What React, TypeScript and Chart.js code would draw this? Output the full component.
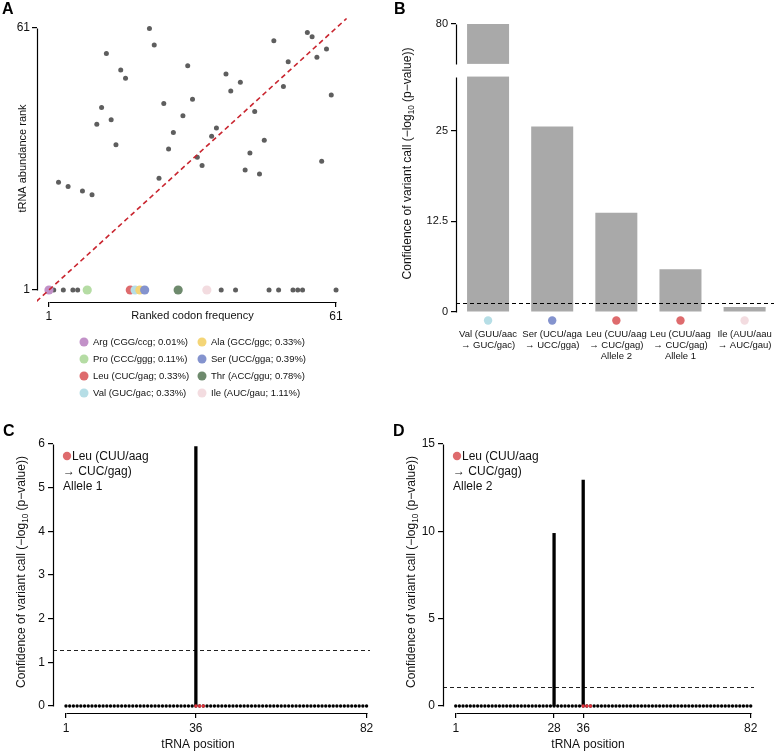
import React, { useEffect, useRef } from "react";
import { Chart, registerables } from "chart.js";

Chart.register(...registerables);

const FONT = "'Liberation Sans', Arial, Helvetica, sans-serif";
const INK = "#111111";

// ---------------- Panel A data ----------------
const greyCodonRank = [3, 5, 8, 10, 11, 12, 13, 14, 15, 16, 17, 22, 23, 24, 25, 26, 27, 29, 30, 31, 32, 33, 35, 36, 38, 39, 41, 42, 43, 44, 45, 46, 48, 50, 51, 55, 56, 57, 58, 59, 60, 2, 4, 6, 7, 37, 40, 47, 49, 52, 53, 54, 61];
const greyTrnaRank = [25.7, 24.7, 23.7, 22.8, 39, 42.8, 55.2, 40, 34.3, 51.4, 49.5, 60.9, 57.1, 26.6, 43.7, 33.3, 37.1, 40.9, 52.4, 44.7, 31.4, 29.5, 36.2, 38.1, 50.5, 46.6, 48.6, 28.5, 32.4, 41.9, 27.6, 35.3, 58.1, 47.6, 53.3, 60, 59, 54.3, 30.5, 56.2, 45.7, 1, 1, 1, 1, 1, 1, 1, 1, 1, 1, 1, 1];

const highlightLabels = ["Arg (CGG/ccg; 0.01%)", "Pro (CCC/ggg; 0.11%)", "Leu (CUC/gag; 0.33%)", "Val (GUC/gac; 0.33%)", "Ala (GCC/ggc; 0.33%)", "Ser (UCC/gga; 0.39%)", "Thr (ACC/ggu; 0.78%)", "Ile (AUC/gau; 1.11%)"];
const highlightCodonRank = [1, 9, 18, 19, 20, 21, 28, 34];
const highlightTrnaRank = [1, 1, 1, 1, 1, 1, 1, 1];
const highlightColors = ["#C291C8", "#B5DCA4", "#DE6B6D", "#B6DEE6", "#F4D577", "#8493CE", "#6E8A6D", "#F3DCE0"];
const axisATicks = [1, 61];

// ---------------- Panel B data ----------------
const variantLabels = [
  ["Val (GUU/aac", "\u2192 GUC/gac)"],
  ["Ser (UCU/aga", "\u2192 UCC/gga)"],
  ["Leu (CUU/aag", "\u2192 CUC/gag)", "Allele 2"],
  ["Leu (CUU/aag", "\u2192 CUC/gag)", "Allele 1"],
  ["Ile (AUU/aau", "\u2192 AUC/gau)"],
];
const variantScores = [80, 25.6, 13.7, 5.9, 0.7];
const variantColors = ["#B6DEE6", "#8493CE", "#DE6B6D", "#DE6B6D", "#F3DCE0"];
const variantTicks = [0, 12.5, 25, 80];
const variantThreshold = 1.3;

// ---------------- Panels C / D data ----------------
const trnaPositions = [1, 2, 3, 4, 5, 6, 7, 8, 9, 10, 11, 12, 13, 14, 15, 16, 17, 18, 19, 20, 21, 22, 23, 24, 25, 26, 27, 28, 29, 30, 31, 32, 33, 34, 35, 36, 37, 38, 39, 40, 41, 42, 43, 44, 45, 46, 47, 48, 49, 50, 51, 52, 53, 54, 55, 56, 57, 58, 59, 60, 61, 62, 63, 64, 65, 66, 67, 68, 69, 70, 71, 72, 73, 74, 75, 76, 77, 78, 79, 80, 81, 82];
const anticodonPositions = [36, 37, 38];

const allele1StemPositions = [36];
const allele1StemScores = [5.95];
const allele1Threshold = 1.28;
const allele1YTicks = [0, 1, 2, 3, 4, 5, 6];
const allele1XTicks = [1, 36, 82];

const allele2StemPositions = [28, 36];
const allele2StemScores = [9.9, 12.95];
const allele2Threshold = 1.1;
const allele2YTicks = [0, 5, 10, 15];
const allele2XTicks = [1, 28, 36, 82];

// ---------------- helpers ----------------
const BREAK_LOW = 32.5;
const BREAK_GAP = 1.75;
const UPPER_FROM = 74.5;
const toDisplay = (v: number) => (v <= BREAK_LOW ? v : BREAK_LOW + BREAK_GAP + (v - UPPER_FROM));

function setFont(ctx: CanvasRenderingContext2D, size: number, bold = false) {
  ctx.font = `${bold ? "bold " : ""}${size}px ${FONT}`;
}

function drawLetter(ctx: CanvasRenderingContext2D, letter: string, x: number, y: number) {
  ctx.save();
  setFont(ctx, 16, true);
  ctx.fillStyle = "#000";
  ctx.textAlign = "left";
  ctx.textBaseline = "top";
  ctx.fillText(letter, x, y);
  ctx.restore();
}

function drawXAxisLine(chart: any, from: number, to: number) {
  const ctx = chart.ctx;
  const xs = chart.scales.x;
  const y = Math.round(chart.chartArea.bottom) + 0.5;
  ctx.save();
  ctx.strokeStyle = "#000";
  ctx.lineWidth = 1.2;
  ctx.beginPath();
  ctx.moveTo(Math.round(xs.getPixelForValue(from)) + 0.5, y);
  ctx.lineTo(Math.round(xs.getPixelForValue(to)) + 0.5, y);
  ctx.stroke();
  ctx.restore();
}

function drawYAxisLine(chart: any, from: number, to: number) {
  const ctx = chart.ctx;
  const ys = chart.scales.y;
  const x = Math.round(chart.chartArea.left) + 0.5;
  ctx.save();
  ctx.strokeStyle = "#000";
  ctx.lineWidth = 1.2;
  ctx.beginPath();
  ctx.moveTo(x, Math.round(ys.getPixelForValue(from)) + 0.5);
  ctx.lineTo(x, Math.round(ys.getPixelForValue(to)) + 0.5);
  ctx.stroke();
  ctx.restore();
}

function drawRotated(ctx: CanvasRenderingContext2D, str: string, x: number, cy: number, size: number) {
  ctx.save();
  ctx.translate(x, cy);
  ctx.rotate(-Math.PI / 2);
  setFont(ctx, size);
  ctx.fillStyle = INK;
  ctx.textAlign = "center";
  ctx.textBaseline = "middle";
  ctx.fillText(str, 0, 0);
  ctx.restore();
}

function drawConfidenceTitle(ctx: CanvasRenderingContext2D, x: number, cy: number, size: number) {
  const parts: [string, number, number][] = [
    ["Confidence of variant call (\u2212log", size, 0],
    ["10", size * 0.68, size * 0.3],
    [" (p\u2212value))", size, 0],
  ];
  ctx.save();
  ctx.translate(x, cy);
  ctx.rotate(-Math.PI / 2);
  ctx.fillStyle = INK;
  ctx.textAlign = "left";
  ctx.textBaseline = "middle";
  let total = 0;
  const widths = parts.map(([s, sz]) => {
    setFont(ctx, sz);
    const w = ctx.measureText(s).width;
    total += w;
    return w;
  });
  let cx = -total / 2;
  parts.forEach(([s, sz, dy], i) => {
    setFont(ctx, sz);
    ctx.fillText(s, cx, dy);
    cx += widths[i];
  });
  ctx.restore();
}

function drawText(ctx: CanvasRenderingContext2D, str: string, x: number, y: number, size: number, align: CanvasTextAlign = "left") {
  ctx.save();
  setFont(ctx, size);
  ctx.fillStyle = INK;
  ctx.textAlign = align;
  ctx.textBaseline = "middle";
  ctx.fillText(str, x, y);
  ctx.restore();
}

function dot(ctx: CanvasRenderingContext2D, x: number, y: number, r: number, color: string) {
  ctx.save();
  ctx.fillStyle = color;
  ctx.beginPath();
  ctx.arc(x, y, r, 0, Math.PI * 2);
  ctx.fill();
  ctx.restore();
}

const tickGrid = { drawOnChartArea: false, drawTicks: true, tickLength: 5, color: "#000", lineWidth: 1.2 };

// ---------------- Panel A config ----------------
function configA(): any {
  const drawOrder = [5, 4, 3, 2, 0, 1, 6, 7];
  const datasets: any[] = [
    {
      type: "line",
      label: "y = x",
      data: [{ x: -1.6, y: -1.6 }, { x: 63.2, y: 63.2 }],
      borderColor: "#C9252F",
      borderWidth: 1.6,
      borderDash: [5, 3.5],
      pointRadius: 0,
      showLine: true,
      fill: false,
    },
  ];
  drawOrder.forEach((i) => {
    datasets.push({
      label: highlightLabels[i],
      data: [{ x: highlightCodonRank[i], y: highlightTrnaRank[i] }],
      pointRadius: 4.6,
      pointBackgroundColor: highlightColors[i],
      backgroundColor: highlightColors[i],
      pointBorderWidth: 0,
    });
  });
  datasets.push({
    label: "other",
    data: greyCodonRank.map((x, i) => ({ x, y: greyTrnaRank[i] })),
    pointRadius: 2.5,
    pointBackgroundColor: "#5E5E5E",
    pointBorderWidth: 0,
  });

  return {
    type: "scatter",
    data: { datasets },
    options: {
      animation: false,
      responsive: false,
      maintainAspectRatio: false,
      layout: { padding: { top: 15, right: 42, left: 0, bottom: 0 } },
      plugins: { legend: { display: false }, tooltip: { enabled: false } },
      scales: {
        x: {
          type: "linear",
          min: -1.5,
          max: 63.5,
          afterBuildTicks: (s: any) => { s.ticks = axisATicks.map((v) => ({ value: v })); },
          afterFit: (s: any) => { s.height = 118; },
          border: { display: false },
          grid: tickGrid,
          ticks: { color: INK, font: { family: FONT, size: 12 }, padding: 2, maxRotation: 0, autoSkip: false },
        },
        y: {
          type: "linear",
          min: -1.75,
          max: 64,
          afterBuildTicks: (s: any) => { s.ticks = axisATicks.map((v) => ({ value: v })); },
          afterFit: (s: any) => { s.width = 37; },
          border: { display: false },
          grid: tickGrid,
          ticks: { color: INK, font: { family: FONT, size: 12 }, padding: 2, autoSkip: false },
        },
      },
    },
    plugins: [
      {
        id: "decorA",
        afterDraw(chart: any) {
          const ctx = chart.ctx;
          const ca = chart.chartArea;
          drawXAxisLine(chart, axisATicks[0], axisATicks[1]);
          drawYAxisLine(chart, axisATicks[0], axisATicks[1]);
          drawRotated(ctx, "tRNA abundance rank", 23, (ca.top + ca.bottom) / 2, 11);
          drawText(ctx, "Ranked codon frequency", (ca.left + ca.right) / 2, 316, 11, "center");
          // legend: two columns of four
          const rowsY = [342, 359, 376, 393];
          highlightLabels.forEach((lab, i) => {
            const col = Math.floor(i / 4);
            const row = i % 4;
            const cx = col === 0 ? 84 : 202;
            dot(ctx, cx, rowsY[row], 4.5, highlightColors[i]);
            drawText(ctx, lab, cx + 9, rowsY[row], 9.5, "left");
          });
          drawLetter(ctx, "A", 2, 2);
        },
      },
    ],
  };
}

// ---------------- Panel B config ----------------
function configB(): any {
  return {
    type: "bar",
    data: {
      labels: variantLabels,
      datasets: [
        {
          label: "Confidence",
          data: variantScores.map(toDisplay),
          backgroundColor: "#A9A9A9",
          borderWidth: 0,
          barPercentage: 0.655,
          categoryPercentage: 1,
        },
      ],
    },
    options: {
      animation: false,
      responsive: false,
      maintainAspectRatio: false,
      layout: { padding: { top: 15, right: 12, left: 0, bottom: 0 } },
      plugins: { legend: { display: false }, tooltip: { enabled: false } },
      scales: {
        x: {
          type: "category",
          afterFit: (s: any) => { s.height = 108; },
          border: { display: false },
          grid: { display: false, drawTicks: false },
          ticks: { color: INK, font: { family: FONT, size: 9.5, lineHeight: 1.15 }, padding: 17, maxRotation: 0, autoSkip: false },
        },
        y: {
          type: "linear",
          min: 0,
          max: 41,
          afterBuildTicks: (s: any) => { s.ticks = variantTicks.map((v) => ({ value: toDisplay(v) })); },
          afterFit: (s: any) => { s.width = 66; },
          border: { display: false },
          grid: tickGrid,
          ticks: {
            color: INK,
            font: { family: FONT, size: 11 },
            padding: 3,
            autoSkip: false,
            callback: (_v: any, i: number) => String(variantTicks[i]),
          },
        },
      },
    },
    plugins: [
      {
        id: "decorB",
        afterDatasetsDraw(chart: any) {
          const ctx = chart.ctx;
          const ca = chart.chartArea;
          const ys = chart.scales.y;
          const xs = chart.scales.x;
          // axis break gap
          const gTop = ys.getPixelForValue(BREAK_LOW + BREAK_GAP);
          const gBot = ys.getPixelForValue(BREAK_LOW);
          ctx.save();
          ctx.fillStyle = "#fff";
          ctx.fillRect(ca.left + 1, gTop, ca.right - ca.left, gBot - gTop);
          ctx.restore();
          // threshold
          const ty = Math.round(ys.getPixelForValue(variantThreshold)) + 0.5;
          ctx.save();
          ctx.strokeStyle = "#000";
          ctx.lineWidth = 1;
          ctx.setLineDash([4, 3]);
          ctx.beginPath();
          ctx.moveTo(ca.left, ty);
          ctx.lineTo(ca.right + 20, ty);
          ctx.stroke();
          ctx.restore();
          // broken axis
          drawYAxisLine(chart, 0, BREAK_LOW);
          drawYAxisLine(chart, BREAK_LOW + BREAK_GAP, toDisplay(80));
          // colored dots
          variantColors.forEach((c, i) => dot(ctx, xs.getPixelForValue(i), ca.bottom + 8.5, 4.2, c));
          drawConfidenceTitle(ctx, 18, (ca.top + ca.bottom) / 2, 12);
          drawLetter(ctx, "B", 4, 2);
        },
      },
    ],
  };
}

// ---------------- Panels C / D config ----------------
function configStem(p: {
  stemPos: number[];
  stemVal: number[];
  threshold: number;
  yTicks: number[];
  xTicks: number[];
  yMin: number;
  yMax: number;
  allele: string;
  letter: string;
}): any {
  const datasets: any[] = [
    {
      label: "anticodon",
      data: anticodonPositions.map((x) => ({ x, y: 0 })),
      pointRadius: 1.7,
      pointBackgroundColor: "#E0313A",
      pointBorderWidth: 0,
    },
  ];
  p.stemPos.forEach((x, i) => {
    datasets.push({
      type: "line",
      label: "stem " + x,
      data: [{ x, y: 0 }, { x, y: p.stemVal[i] }],
      borderColor: "#000",
      borderWidth: 3.3,
      borderCapStyle: "butt",
      pointRadius: 0,
      showLine: true,
      fill: false,
    });
  });
  datasets.push({
    label: "positions",
    data: trnaPositions.map((x) => ({ x, y: 0 })),
    pointRadius: 1.7,
    pointBackgroundColor: "#000",
    pointBorderWidth: 0,
  });

  return {
    type: "scatter",
    data: { datasets },
    options: {
      animation: false,
      responsive: false,
      maintainAspectRatio: false,
      layout: { padding: { top: 11, right: 16, left: 0, bottom: 0 } },
      plugins: { legend: { display: false }, tooltip: { enabled: false } },
      scales: {
        x: {
          type: "linear",
          min: -2.5,
          max: 84,
          afterBuildTicks: (s: any) => { s.ticks = p.xTicks.map((v) => ({ value: v })); },
          afterFit: (s: any) => { s.height = 41; },
          border: { display: false },
          grid: tickGrid,
          ticks: { color: INK, font: { family: FONT, size: 12 }, padding: 3, maxRotation: 0, autoSkip: false },
        },
        y: {
          type: "linear",
          min: p.yMin,
          max: p.yMax,
          afterBuildTicks: (s: any) => { s.ticks = p.yTicks.map((v) => ({ value: v })); },
          afterFit: (s: any) => { s.width = 53; },
          border: { display: false },
          grid: tickGrid,
          ticks: { color: INK, font: { family: FONT, size: 12 }, padding: 3, autoSkip: false },
        },
      },
    },
    plugins: [
      {
        id: "decorStem",
        beforeDatasetsDraw(chart: any) {
          const ctx = chart.ctx;
          const ca = chart.chartArea;
          const ys = chart.scales.y;
          const ty = Math.round(ys.getPixelForValue(p.threshold)) + 0.5;
          ctx.save();
          ctx.strokeStyle = "#222";
          ctx.lineWidth = 1;
          ctx.setLineDash([4, 3]);
          ctx.beginPath();
          ctx.moveTo(ca.left, ty);
          ctx.lineTo(ca.right - 4, ty);
          ctx.stroke();
          ctx.restore();
        },
        afterDraw(chart: any) {
          const ctx = chart.ctx;
          const ca = chart.chartArea;
          drawXAxisLine(chart, p.xTicks[0], p.xTicks[p.xTicks.length - 1]);
          drawYAxisLine(chart, p.yTicks[0], p.yTicks[p.yTicks.length - 1]);
          drawConfidenceTitle(ctx, 22, (ca.top + ca.bottom) / 2, 12);
          drawText(ctx, "tRNA position", 198, 325, 12, "center");
          dot(ctx, 67, 36, 4.2, "#DE6B6D");
          drawText(ctx, "Leu (CUU/aag", 72, 37, 12);
          drawText(ctx, "\u2192 CUC/gag)", 63, 52, 12);
          drawText(ctx, p.allele, 63, 67, 12);
          drawLetter(ctx, p.letter, 3, 4);
        },
      },
    ],
  };
}

function ChartCanvas(props: { left: number; top: number; width: number; height: number; make: () => any }) {
  const ref = useRef<HTMLCanvasElement | null>(null);
  useEffect(() => {
    if (!ref.current) return;
    const chart = new Chart(ref.current, props.make());
    return () => chart.destroy();
  }, []);
  return (
    <canvas
      ref={ref}
      width={props.width}
      height={props.height}
      style={{ position: "absolute", left: props.left, top: props.top, width: props.width, height: props.height }}
    />
  );
}

export default function App() {
  return (
    <div style={{ position: "absolute", left: 0, top: 0, width: 774, height: 754, overflow: "hidden", background: "#fff" }}>
      <ChartCanvas left={0} top={0} width={390} height={420} make={configA} />
      <ChartCanvas left={390} top={0} width={400} height={420} make={configB} />
      <ChartCanvas
        left={0}
        top={420}
        width={390}
        height={334}
        make={() =>
          configStem({
            stemPos: allele1StemPositions,
            stemVal: allele1StemScores,
            threshold: allele1Threshold,
            yTicks: allele1YTicks,
            xTicks: allele1XTicks,
            yMin: -0.16,
            yMax: 6.3,
            allele: "Allele 1",
            letter: "C",
          })
        }
      />
      <ChartCanvas
        left={390}
        top={420}
        width={384}
        height={334}
        make={() =>
          configStem({
            stemPos: allele2StemPositions,
            stemVal: allele2StemScores,
            threshold: allele2Threshold,
            yTicks: allele2YTicks,
            xTicks: allele2XTicks,
            yMin: -0.4,
            yMax: 15.74,
            allele: "Allele 2",
            letter: "D",
          })
        }
      />
    </div>
  );
}
